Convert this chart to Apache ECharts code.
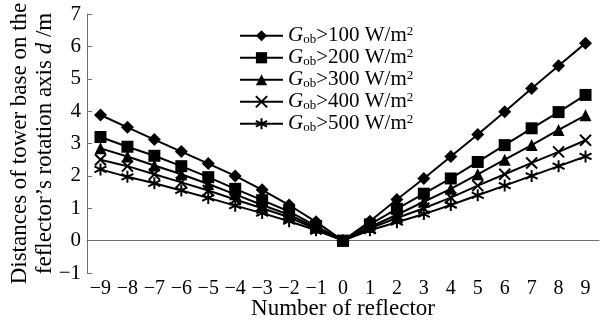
<!DOCTYPE html>
<html><head><meta charset="utf-8">
<script src="https://cdn.jsdelivr.net/npm/echarts@6/dist/echarts.min.js"></script>
<style>html,body{margin:0;padding:0;background:#fff}#c{width:612px;height:320px}</style>
</head><body><div id="c"></div>
<script>
const categories = ['-9','-8','-7','-6','-5','-4','-3','-2','-1','0','1','2','3','4','5','6','7','8','9'];
const g100 = [3.88,3.5,3.12,2.75,2.38,2.0,1.57,1.1,0.58,0,0.6,1.27,1.92,2.6,3.28,3.98,4.7,5.4,6.1];
const g200 = [3.2,2.9,2.62,2.3,1.96,1.6,1.25,0.9,0.45,0,0.5,0.98,1.45,1.92,2.43,2.95,3.47,3.97,4.5];
const g300 = [2.85,2.6,2.32,2.05,1.75,1.43,1.1,0.8,0.4,0,0.42,0.8,1.2,1.6,2.05,2.5,2.95,3.42,3.87];
const g400 = [2.5,2.3,2.05,1.8,1.55,1.27,1.0,0.72,0.36,0,0.38,0.7,1.0,1.33,1.7,2.05,2.4,2.74,3.1];
const g500 = [2.2,1.97,1.77,1.55,1.32,1.08,0.85,0.6,0.32,0,0.32,0.57,0.82,1.1,1.4,1.7,2.0,2.3,2.6];
const seriesNames = ['G100','G200','G300','G400','G500'];
const thresholds = ['100','200','300','400','500'];
const yTicks = [-1,0,1,2,3,4,5,6,7];

const FONT = 'Liberation Serif';
const AXIS = '#6e6e6e';
const minus = s => String(s).replace('-', '\u2212');
const xPath = 'path://M0,0L10,10M10,0L0,10';
const starPath = 'path://M5,0L5,10M0,2.5L10,7.5M0,7.5L10,2.5';
const symbols = [
  {symbol:'diamond', size:13, stroke:false},
  {symbol:'rect', size:12, stroke:false},
  {symbol:'triangle', size:12, stroke:false},
  {symbol:xPath, size:11, stroke:true},
  {symbol:starPath, size:12, stroke:true}
];
const dataSets = [g100,g200,g300,g400,g500];

const series = dataSets.map((d,i)=>({
  name: seriesNames[i],
  type: 'line',
  data: d,
  symbol: symbols[i].symbol,
  symbolSize: symbols[i].size,
  showAllSymbol: true,
  lineStyle: {color:'#000', width:2},
  itemStyle: symbols[i].stroke ? {color:'#000', borderColor:'#000', borderWidth:2} : {color:'#000', borderWidth:0},
  z: 10 - i
}));

const LH = 21.5;
const chart = echarts.init(document.getElementById('c'), null, {renderer:'canvas'});
chart.setOption({
  animation: false,
  backgroundColor: '#fff',
  textStyle: {fontFamily: FONT, color:'#000'},
  grid: {left: 87, right: 13, top: 14, bottom: 47, containLabel: false, outerBoundsMode: 'none'},
  legend: {
    orient: 'vertical',
    left: 239, top: 25,
    padding: 0,
    itemWidth: 43, itemHeight: 14, itemGap: 0.5,
    data: seriesNames,
    formatter: n => {
      const t = thresholds[seriesNames.indexOf(n)];
      return '{i|G}{sub|ob}{n|>' + t + ' W/m}{sup|2}';
    },
    textStyle: {
      fontFamily: FONT, color:'#000', fontSize: 21, lineHeight: LH,
      rich: {
        i: {fontFamily: FONT, fontStyle:'italic', fontSize: 21, color:'#000', lineHeight: LH},
        sub: {fontFamily: FONT, fontSize: 13, color:'#000', lineHeight: 12, verticalAlign: 'bottom'},
        n: {fontFamily: FONT, fontSize: 21, color:'#000', lineHeight: LH},
        sup: {fontFamily: FONT, fontSize: 13, color:'#000', lineHeight: 12, verticalAlign: 'top'}
      }
    }
  },
  xAxis: {
    type: 'category',
    data: categories,
    boundaryGap: true,
    name: 'Number of reflector',
    nameLocation: 'middle',
    nameGap: 24,
    nameMoveOverlap: false,
    nameTextStyle: {fontFamily: FONT, fontSize: 23, color:'#000'},
    axisLine: {lineStyle:{color:AXIS, width:1}},
    axisTick: {inside: true, length: 5, lineStyle:{color:AXIS}, interval: 0},
    axisLabel: {interval: 0, fontFamily: FONT, fontSize: 20, color:'#000', margin: 6, formatter: v => minus(v)}
  },
  yAxis: {
    type: 'value',
    min: yTicks[0], max: yTicks[yTicks.length-1], interval: 1,
    name: '{n|Distances of tower base on the}\n{n|feflector\u2019s rotation axis }{i|d}{n| /m}',
    nameLocation: 'middle',
    nameGap: 30,
    nameMoveOverlap: false,
    nameRotate: 90,
    nameTextStyle: {
      fontFamily: FONT, fontSize: 23, color:'#000', lineHeight: 25,
      rich: {
        n: {fontFamily: FONT, fontSize: 23, color:'#000', lineHeight: 25},
        i: {fontFamily: FONT, fontSize: 23, fontStyle:'italic', color:'#000', lineHeight: 25}
      }
    },
    axisLine: {show: true, lineStyle:{color:AXIS, width:1}},
    axisTick: {show: true, inside: true, length: 5, lineStyle:{color:AXIS}},
    splitLine: {show: false},
    axisLabel: {fontFamily: FONT, fontSize: 21, color:'#000', margin: 6, formatter: v => minus(v)}
  },
  series: series
});
</script></body></html>
